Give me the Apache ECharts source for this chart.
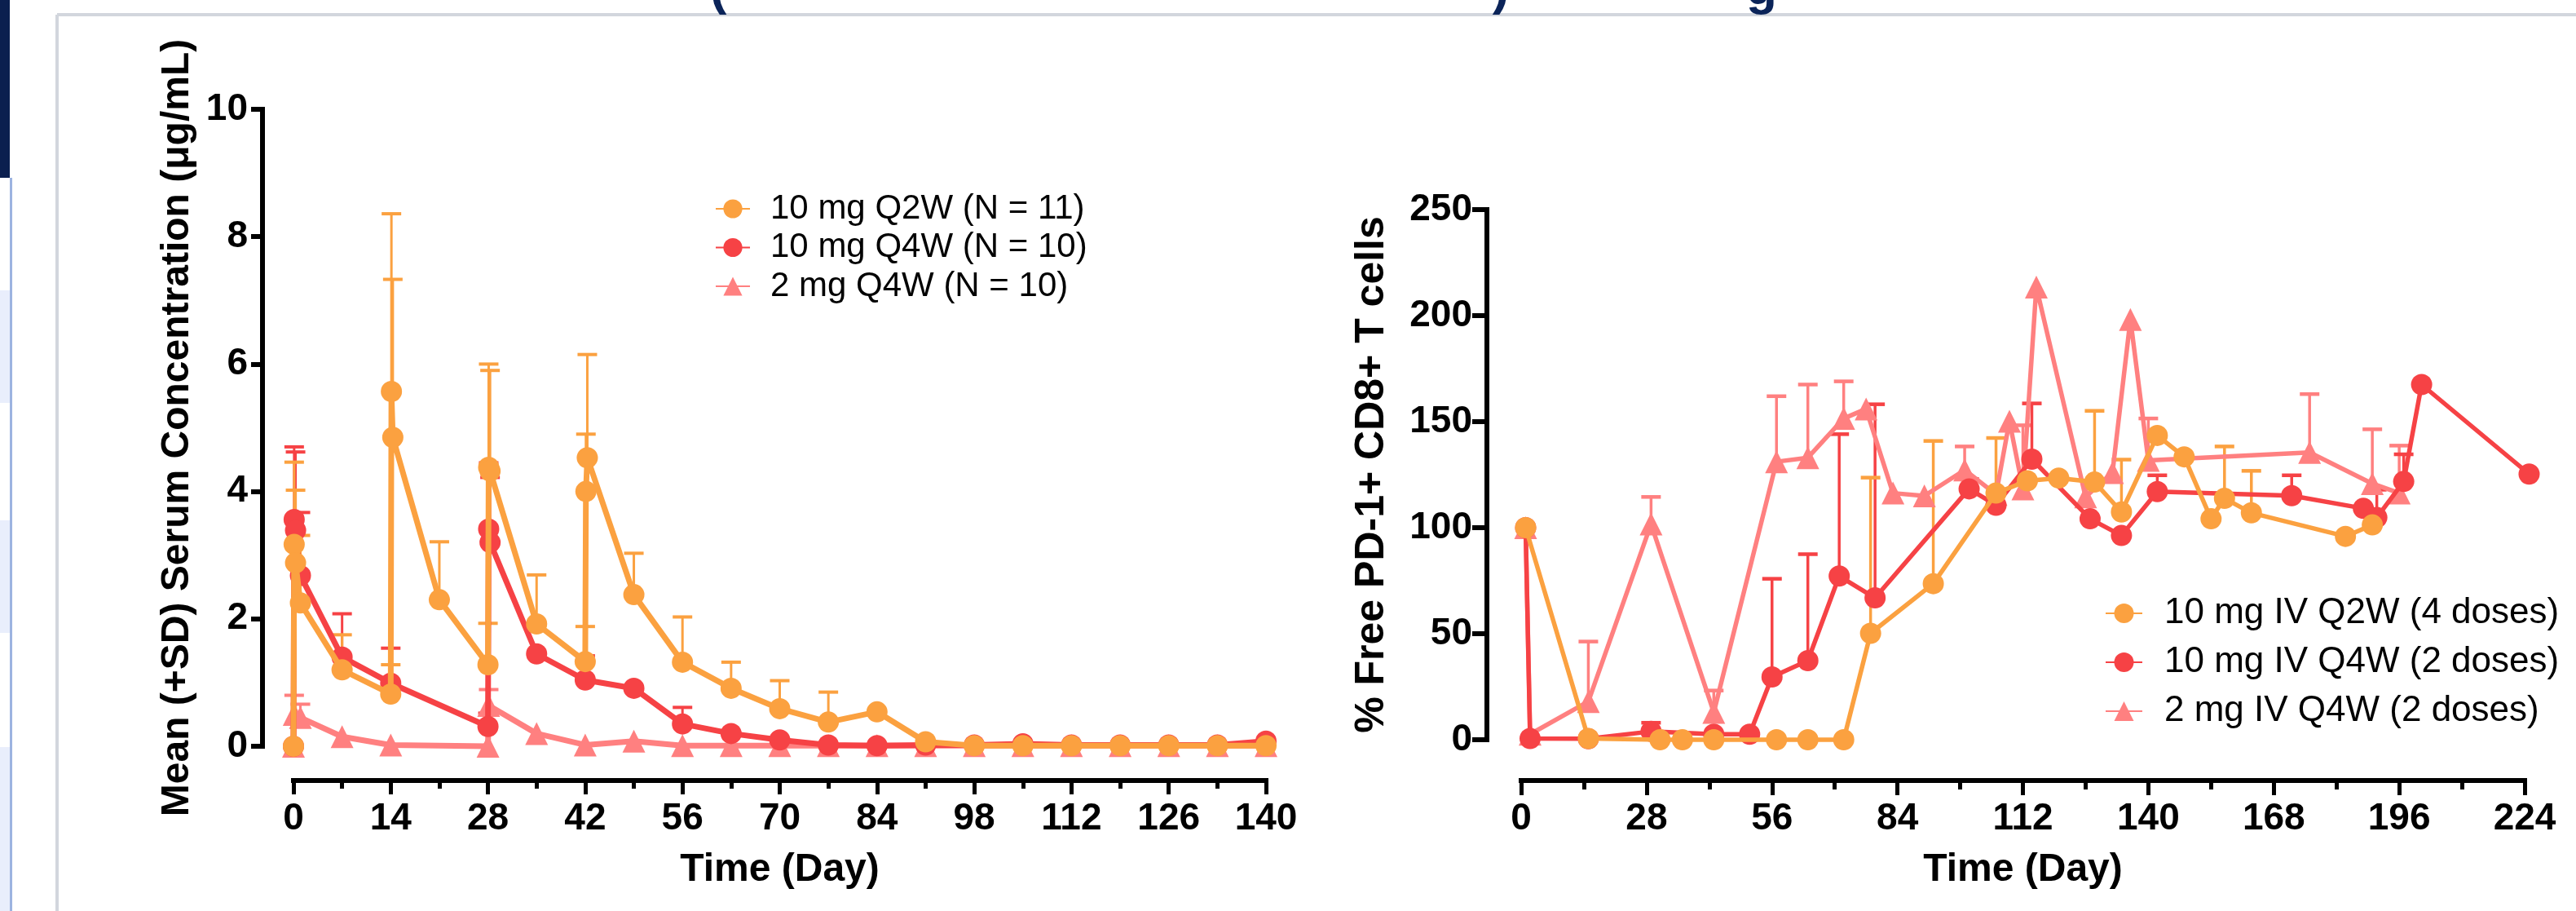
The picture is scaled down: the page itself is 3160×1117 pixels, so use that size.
<!DOCTYPE html>
<html><head><meta charset="utf-8">
<script src="https://cdn.jsdelivr.net/npm/echarts@6/dist/echarts.min.js"></script>
<style>html,body{margin:0;padding:0;background:#fff}#c{width:3160px;height:1117px}</style>
</head><body><div id="c"></div>
<script>
// ---------- Left panel: PK (Mean + SD serum concentration, µg/mL) ----------
const pkSeriesNames = ['10 mg Q2W (N = 11)', '10 mg Q4W (N = 10)', '2 mg Q4W (N = 10)'];
const pkXTicks = [0, 14, 28, 42, 56, 70, 84, 98, 112, 126, 140];
const pkYTicks = [0, 2, 4, 6, 8, 10];

const pkDaysQ2W  = [0,0.1,0.3,1,7,14,14.1,14.3,21,28,28.1,28.3,35,42,42.1,42.3,49,56,63,70,77,84,91,98,105,112,119,126,133,140];
const pkMeanQ2W  = [0,3.17,2.88,2.25,1.20,0.82,5.57,4.85,2.30,1.28,4.38,4.32,1.92,1.33,4.00,4.53,2.38,1.32,0.91,0.59,0.38,0.54,0.07,0.01,0.01,0.01,0.01,0.01,0.01,0.01];
const pkUpperQ2W = [null,4.46,4.02,3.31,1.75,1.28,8.36,7.33,3.21,1.93,6.00,5.90,2.69,1.88,4.90,6.15,3.03,2.03,1.32,1.03,0.85,null,null,null,null,null,null,null,null,null];

const pkDaysQ4W  = [0,0.1,0.3,1,7,14,28,28.1,28.3,35,42,49,56,63,70,77,84,91,98,105,112,119,126,133,140];
const pkMeanQ4W  = [0,3.56,3.39,2.68,1.40,0.99,0.31,3.41,3.20,1.45,1.04,0.91,0.35,0.20,0.10,0.02,0.01,0.02,0.02,0.04,0.02,0.02,0.02,0.02,0.08];
const pkUpperQ4W = [null,4.70,4.62,3.67,2.08,1.54,0.52,4.45,4.22,null,1.42,null,0.61,null,null,null,null,null,null,null,null,null,null,null,null];

const pkDays2mg  = [0,0.1,1,7,14,28,28.1,35,42,49,56,63,70,77,84,91,98,105,112,119,126,133,140];
const pkMean2mg  = [0,0.50,0.45,0.15,0.02,0.00,0.64,0.20,0.02,0.08,0.01,0.01,0.01,0.01,0.01,0.01,0.01,0.01,0.01,0.01,0.01,0.01,0.01];
const pkUpper2mg = [null,0.80,0.66,null,null,null,0.89,null,null,null,null,null,null,null,null,null,null,null,null,null,null,null,null];

// ---------- Right panel: receptor occupancy (% free PD-1+ CD8+ T cells) ----------
const roSeriesNames = ['10 mg IV Q2W (4 doses)', '10 mg IV Q4W (2 doses)', '2 mg IV Q4W (2 doses)'];
const roXTicks = [0, 28, 56, 84, 112, 140, 168, 196, 224];
const roYTicks = [0, 50, 100, 150, 200, 250];

const roDaysQ2W  = [1,15,31,36,43,57,64,72,78,92,106,113,120,128,134,142,148,154,157,163,184,190];
const roMeanQ2W  = [100,0.6,0,0,0,0,0,0,50.2,73.6,116.3,122.1,123.4,121.5,107.4,143.5,133.4,104.2,113.8,107.0,95.9,101.3];
const roUpperQ2W = [null,null,null,null,null,null,null,null,123.6,140.9,142.3,null,null,155.1,132.1,null,null,null,138.3,126.8,null,null];

const roDaysQ4W  = [1,2,15,29,43,51,56,64,71,79,100,106,114,127,134,142,172,188,191,197,201,225];
const roMeanQ4W  = [100,0.6,0.5,3.9,2.6,2.6,29.6,37.3,77.2,66.9,118.3,110.6,132.3,104.2,96.3,117.0,115.1,109.1,104.8,121.8,167.5,125.3];
const roUpperQ4W = [null,null,null,8.0,null,null,75.9,87.5,144.1,158.2,123.0,null,158.6,null,null,124.7,124.7,null,117.9,134.6,null,null];

const roDays2mg  = [1,2,15,29,43,57,64,72,77,83,90,99,106,109,112,115,126,132,136,140,176,190,196];
const roMean2mg  = [100,2.6,18.0,101.7,12.9,131.1,133.0,151.5,156.0,116.3,115.0,127.2,115.7,150.2,118.3,213.5,114.5,126.0,198.2,131.7,135.5,120.8,116.3];
const roUpper2mg = [null,null,46.3,114.5,23.2,162.0,167.5,169.0,null,null,null,138.3,null,null,148.3,null,null,null,null,151.5,163.0,146.4,138.7];

// ---------- styling ----------
const C_ORANGE = '#FBA140', C_RED = '#F64245', C_PINK = '#FF8080', C_NAVY = '#0B2459';
const FONT = "'Liberation Sans', Arial, Helvetica, sans-serif";

function zip(a, b) { return a.map((d, i) => [d, b[i]]); }

function lineSeries(name, xi, days, vals, color, symbol, size, lw, z) {
  return {
    name, type: 'line', xAxisIndex: xi, yAxisIndex: xi, data: zip(days, vals),
    symbol, symbolSize: size, showSymbol: true, clip: false, z,
    lineStyle: { color, width: lw }, itemStyle: { color, borderWidth: 0 },
    emphasis: { disabled: true }, animation: false
  };
}

function errSeries(xi, days, vals, upper, color, capW, lw, z) {
  const data = [];
  days.forEach((d, i) => { if (upper[i] != null) data.push([d, vals[i], upper[i]]); });
  return {
    type: 'custom', xAxisIndex: xi, yAxisIndex: xi, z, silent: true, clip: false, animation: false,
    encode: { x: 0, y: [1, 2] }, data,
    renderItem(params, api) {
      const p0 = api.coord([api.value(0), api.value(1)]);
      const p1 = api.coord([api.value(0), api.value(2)]);
      return { type: 'group', children: [
        { type: 'line', shape: { x1: p0[0], y1: p0[1], x2: p1[0], y2: p1[1] }, style: { stroke: color, lineWidth: lw } },
        { type: 'line', shape: { x1: p1[0] - capW / 2, y1: p1[1], x2: p1[0] + capW / 2, y2: p1[1] }, style: { stroke: color, lineWidth: lw + 1 } }
      ] };
    }
  };
}

const tickLabel = { color: '#000', fontFamily: FONT, fontWeight: 'bold', fontSize: 46 };
const axLine = { show: true, lineStyle: { color: '#000', width: 6, cap: 'square' } };

function yAxisVisible(gi, ticks, name, gap, margin, tickLen, nameSize) {
  return {
    gridIndex: gi, type: 'value', position: 'left',
    min: ticks[0], max: ticks[ticks.length - 1], interval: ticks[1] - ticks[0],
    axisLine: axLine, axisTick: { show: true, length: tickLen, lineStyle: { color: '#000', width: 6 } },
    axisLabel: Object.assign({ margin }, tickLabel), splitLine: { show: false },
    name, nameLocation: 'middle', nameGap: gap, nameMoveOverlap: false,
    nameTextStyle: { color: '#000', fontFamily: FONT, fontWeight: 'bold', fontSize: nameSize }
  };
}
function xAxisVisible(gi, ticks, name, tickLen, minorLen) {
  return {
    gridIndex: gi, type: 'value', position: 'bottom',
    min: ticks[0], max: ticks[ticks.length - 1], interval: ticks[1] - ticks[0],
    axisLine: axLine, axisTick: { show: true, length: tickLen, lineStyle: { color: '#000', width: 5 } },
    minorTick: { show: true, splitNumber: 2, length: minorLen, lineStyle: { color: '#000', width: 5 } },
    axisLabel: Object.assign({ margin: 24 }, tickLabel), splitLine: { show: false }, minorSplitLine: { show: false },
    name, nameLocation: 'middle', nameGap: 86, nameMoveOverlap: false,
    nameTextStyle: { color: '#000', fontFamily: FONT, fontWeight: 'bold', fontSize: 48 }
  };
}
const hiddenAxis = (gi, min, max) => ({ gridIndex: gi, type: 'value', min, max, show: false, splitLine: { show: false } });

const grids = [
  { left: 360, top: 134, width: 1193, height: 781 },   // 0 left data
  { left: 1866, top: 257, width: 1231, height: 650 },  // 1 right data
  { left: 322, top: 134, width: 10, height: 781 },     // 2 left y axis
  { left: 1824, top: 257, width: 10, height: 650 },    // 3 right y axis
  { left: 360, top: 900, width: 1193, height: 57 },    // 4 left x axis
  { left: 1866, top: 900, width: 1231, height: 57 }    // 5 right x axis
].map(g => Object.assign({ containLabel: false, outerBoundsMode: 'none', show: false }, g));

const option = {
  backgroundColor: '#ffffff',
  animation: false,
  grid: grids,
  xAxis: [
    hiddenAxis(0, pkXTicks[0], pkXTicks[pkXTicks.length - 1]),
    hiddenAxis(1, roXTicks[0], roXTicks[roXTicks.length - 1]),
    hiddenAxis(2, 0, 1),
    hiddenAxis(3, 0, 1),
    xAxisVisible(4, pkXTicks, 'Time (Day)', 17, 10),
    xAxisVisible(5, roXTicks, 'Time (Day)', 18, 11)
  ],
  yAxis: [
    hiddenAxis(0, pkYTicks[0], pkYTicks[pkYTicks.length - 1]),
    hiddenAxis(1, roYTicks[0], roYTicks[roYTicks.length - 1]),
    yAxisVisible(2, pkYTicks, 'Mean (+SD) Serum Concentration (μg/mL)', 80, 18, 14, 48),
    yAxisVisible(3, roYTicks, '% Free PD-1+ CD8+ T cells', 116, 18, 18, 50),
    hiddenAxis(4, 0, 1),
    hiddenAxis(5, 0, 1)
  ],
  legend: [
    {
      data: pkSeriesNames, orient: 'vertical', left: 872, top: 229,
      itemWidth: 42, itemHeight: 29, itemGap: 3.5, selectedMode: false,
      textStyle: { color: '#000', fontFamily: FONT, fontSize: 42, lineHeight: 44, padding: [0, 0, 0, 20] }
    },
    {
      data: roSeriesNames, orient: 'vertical', left: 2577, top: 724,
      itemWidth: 45, itemHeight: 30, itemGap: 14, selectedMode: false,
      textStyle: { color: '#000', fontFamily: FONT, fontSize: 44, lineHeight: 46, padding: [0, 0, 0, 22] }
    }
  ],
  series: [
    // left panel
    errSeries(0, pkDays2mg, pkMean2mg, pkUpper2mg, C_PINK, 24, 3, 2),
    errSeries(0, pkDaysQ4W, pkMeanQ4W, pkUpperQ4W, C_RED, 24, 3, 2),
    errSeries(0, pkDaysQ2W, pkMeanQ2W, pkUpperQ2W, C_ORANGE, 24, 3, 2),
    lineSeries(pkSeriesNames[2], 0, pkDays2mg, pkMean2mg, C_PINK, 'triangle', 28, 7, 3),
    lineSeries(pkSeriesNames[1], 0, pkDaysQ4W, pkMeanQ4W, C_RED, 'circle', 26, 7, 4),
    lineSeries(pkSeriesNames[0], 0, pkDaysQ2W, pkMeanQ2W, C_ORANGE, 'circle', 26, 7, 5),
    // right panel
    errSeries(1, roDays2mg, roMean2mg, roUpper2mg, C_PINK, 24, 3.5, 2),
    errSeries(1, roDaysQ4W, roMeanQ4W, roUpperQ4W, C_RED, 24, 3.5, 2),
    errSeries(1, roDaysQ2W, roMeanQ2W, roUpperQ2W, C_ORANGE, 24, 3.5, 2),
    lineSeries(roSeriesNames[2], 1, roDays2mg, roMean2mg, C_PINK, 'triangle', 28, 5.5, 3),
    lineSeries(roSeriesNames[1], 1, roDaysQ4W, roMeanQ4W, C_RED, 'circle', 26, 5.5, 4),
    lineSeries(roSeriesNames[0], 1, roDaysQ2W, roMeanQ2W, C_ORANGE, 'circle', 26, 5.5, 5)
  ],
  graphic: [
    // slide frame / decoration
    { type: 'rect', silent: true, shape: { x: 0, y: 0, width: 12, height: 218 }, style: { fill: '#0B1F4F' } },
    { type: 'rect', silent: true, shape: { x: 0, y: 356, width: 12, height: 138 }, style: { fill: '#E9EEFC' } },
    { type: 'rect', silent: true, shape: { x: 0, y: 638, width: 12, height: 138 }, style: { fill: '#E9EEFC' } },
    { type: 'rect', silent: true, shape: { x: 0, y: 916, width: 12, height: 201 }, style: { fill: '#E9EEFC' } },
    { type: 'rect', silent: true, shape: { x: 12, y: 218, width: 3, height: 899 }, style: { fill: '#9CB3E0' } },
    { type: 'line', silent: true, shape: { x1: 70, y1: 18, x2: 3160, y2: 18 }, style: { stroke: '#D2D6DD', lineWidth: 4 } },
    { type: 'line', silent: true, shape: { x1: 70, y1: 18, x2: 70, y2: 1117 }, style: { stroke: '#D2D6DD', lineWidth: 4 } },
    // bottoms of the slide title glyphs (cut off at the top edge)
    { type: 'text', silent: true, x: 881, y: -12, style: { text: '(', fill: C_NAVY, font: "bold 62px 'Liberation Sans', Arial", align: 'center', verticalAlign: 'middle' } },
    { type: 'text', silent: true, x: 1841, y: -12, style: { text: ')', fill: C_NAVY, font: "bold 62px 'Liberation Sans', Arial", align: 'center', verticalAlign: 'middle' } },
    { type: 'text', silent: true, x: 2161, y: -12, style: { text: 'g', fill: C_NAVY, font: "bold 62px 'Liberation Sans', Arial", align: 'center', verticalAlign: 'middle' } }
  ]
};

const chart = echarts.init(document.getElementById('c'), null, { renderer: 'canvas' });
chart.setOption(option);
</script></body></html>
